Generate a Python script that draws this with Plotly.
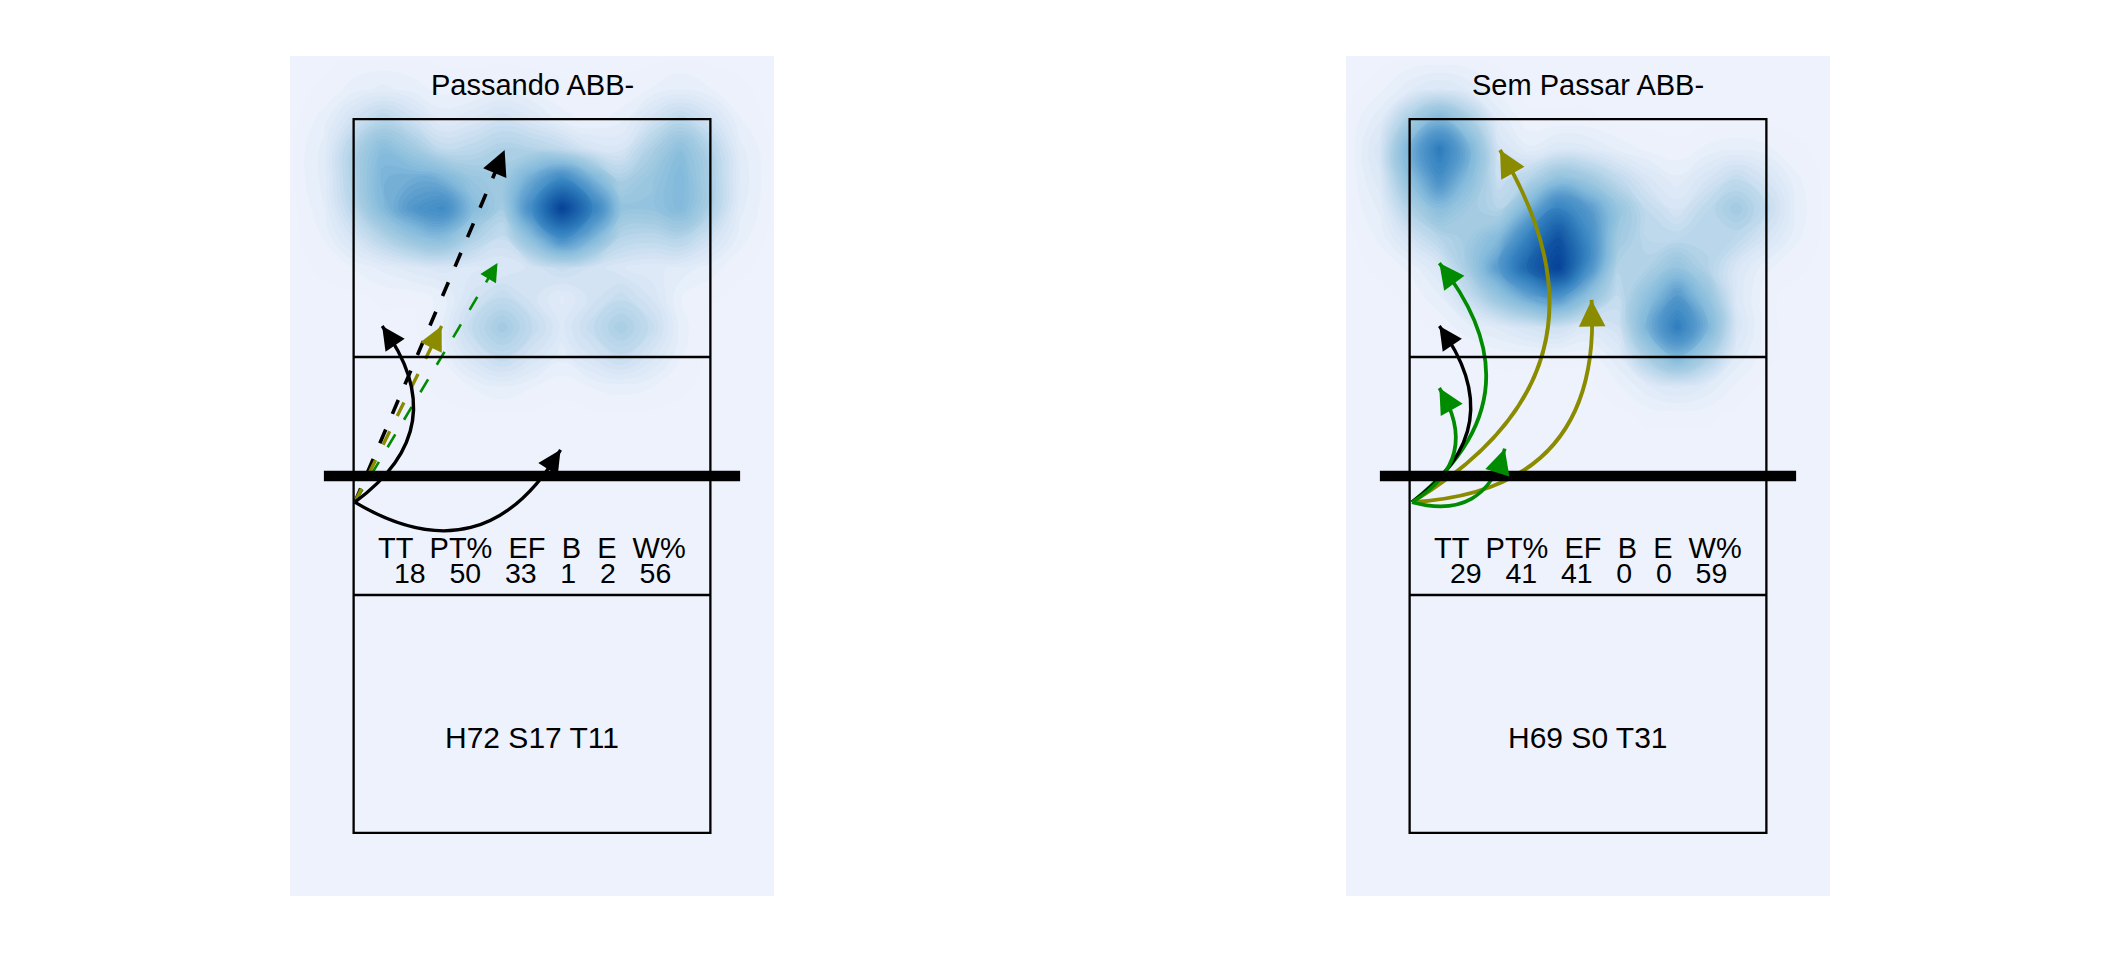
import plotly.graph_objects as go

# ---------------- data ----------------
PANEL_TITLES = ["Passando ABB-", "Sem Passar ABB-"]
STAT_LABELS = ["TT", "PT%", "EF", "B", "E", "W%"]
STAT_VALUES_LEFT = [18, 50, 33, 1, 2, 56]
STAT_VALUES_RIGHT = [29, 41, 41, 0, 0, 59]
SUMMARY_LEFT = "H72 S17 T11"
SUMMARY_RIGHT = "H69 S0 T31"

# density of attack end points, grid in court units
HEAT_X = [0.0, 0.25, 0.5, 0.75, 1.0, 1.25, 1.5, 1.75, 2.0, 2.25, 2.5, 2.75, 3.0, 3.25, 3.5, 3.75, 4.0]
HEAT_Y = [3.5, 3.75, 4.0, 4.25, 4.5, 4.75, 5.0, 5.25, 5.5, 5.75, 6.0, 6.25, 6.5, 6.75, 7.0]
HEAT_LEFT = [
    [0, 0, 0, 0, 0, 0, 0, 0, 0, 0, 0, 0, 0, 0, 0, 0, 0],
    [0, 0, 0, 0, 0, 0, 0, 0, 0, 0, 0, 0, 0, 0, 0, 0, 0],
    [0, 0, 0, 0, 0, 0, 0, 0, 0, 0, 0, 0, 0, 0, 0, 0, 0],
    [0, 0, 0, 0, 0, 1, 3, 5, 3, 1, 3, 4, 3, 1, 0, 0, 0],
    [0, 0, 0, 0, 0, 3, 12, 19, 12, 6, 12, 18, 11, 3, 0, 0, 0],
    [0, 0, 0, 0, 0, 5, 19, 30, 19, 9, 18, 28, 18, 4, 0, 0, 0],
    [0, 0, 0, 1, 1, 4, 13, 19, 13, 7, 13, 18, 12, 3, 1, 0, 0],
    [0, 1, 3, 6, 9, 11, 9, 9, 13, 18, 14, 10, 8, 7, 4, 1, 0],
    [0, 3, 12, 24, 36, 41, 26, 17, 41, 65, 47, 23, 21, 24, 14, 4, 0],
    [0, 5, 22, 43, 59, 66, 42, 29, 66, 103, 73, 37, 36, 43, 26, 6, 1],
    [1, 6, 26, 46, 49, 46, 34, 30, 50, 67, 47, 26, 34, 44, 27, 7, 1],
    [1, 6, 25, 41, 31, 19, 21, 26, 24, 20, 12, 11, 26, 39, 24, 6, 1],
    [0, 4, 14, 22, 15, 7, 10, 14, 10, 4, 2, 4, 13, 21, 13, 3, 0],
    [0, 1, 4, 6, 4, 2, 2, 4, 2, 1, 0, 1, 3, 5, 3, 1, 0],
    [0, 0, 1, 1, 1, 0, 0, 0, 0, 0, 0, 0, 0, 1, 0, 0, 0],
]
HEAT_RIGHT = [
    [0, 0, 0, 0, 0, 0, 0, 0, 0, 0, 0, 0, 0, 0, 0, 0, 0],
    [0, 0, 0, 0, 0, 0, 0, 0, 0, 0, 0, 0, 0, 0, 0, 0, 0],
    [0, 0, 0, 0, 0, 0, 0, 0, 0, 0, 1, 1, 1, 0, 0, 0, 0],
    [0, 0, 0, 0, 0, 0, 0, 0, 0, 2, 6, 9, 6, 2, 0, 0, 0],
    [0, 0, 0, 0, 0, 1, 1, 1, 1, 6, 24, 38, 24, 6, 1, 0, 0],
    [0, 0, 0, 1, 4, 7, 11, 13, 8, 12, 40, 63, 40, 10, 1, 0, 0],
    [0, 0, 1, 4, 15, 30, 44, 51, 32, 16, 33, 50, 32, 8, 1, 0, 0],
    [0, 1, 3, 9, 26, 49, 74, 88, 55, 21, 22, 31, 21, 9, 3, 1, 0],
    [0, 3, 11, 20, 26, 37, 62, 81, 57, 27, 18, 18, 19, 18, 10, 3, 0],
    [1, 5, 22, 35, 26, 20, 40, 61, 49, 30, 16, 10, 18, 26, 16, 4, 0],
    [1, 8, 34, 54, 35, 14, 20, 32, 27, 17, 9, 5, 10, 16, 10, 3, 0],
    [1, 10, 40, 64, 40, 11, 5, 8, 7, 4, 2, 1, 3, 4, 3, 1, 0],
    [1, 6, 24, 38, 24, 6, 1, 1, 1, 0, 0, 0, 0, 0, 0, 0, 0],
    [0, 2, 6, 9, 6, 2, 0, 0, 0, 0, 0, 0, 0, 0, 0, 0, 0],
    [0, 0, 1, 1, 1, 0, 0, 0, 0, 0, 0, 0, 0, 0, 0, 0, 0],
]

# attacks (court units): common start point, end points, outcome group, trajectory kind
LEFT_START = [0.51, 3.28]
LEFT_END_X = [1.77, 1.71, 1.24, 0.74, 2.24]
LEFT_END_Y = [6.24, 5.29, 4.76, 4.76, 3.72]
LEFT_GROUP = ["k", "g", "y", "k", "k"]
LEFT_KIND = ["straight", "straight", "straight", "curve", "curve"]

RIGHT_START = [0.52, 3.28]
RIGHT_END_X = [1.26, 2.03, 0.75, 0.75, 0.75, 1.30]
RIGHT_END_Y = [6.24, 4.98, 5.29, 4.76, 4.24, 3.73]
RIGHT_GROUP = ["y", "y", "g", "k", "g", "g"]
RIGHT_KIND = ["curve", "curve", "curve", "curve", "curve", "curve"]

# ---------------- styles ----------------
GROUP_COLOUR = {"k": "#000000", "g": "#008B00", "y": "#8B8B00"}
LEFT_WIDTH = [3.6, 2.6, 3.4, 3.3, 3.3]
RIGHT_WIDTH = [3.8, 3.8, 3.6, 3.3, 3.6, 3.6]
CURVATURE = 0.5
HEAD_TAIL = 0.15  # length (court units) of the arrow-head guide segment
BG = "#EEF2FD"
FONT = "Liberation Sans, Arial, sans-serif"
COLORSCALE = [
    [0.0, BG], [0.05, "#E4EDF9"], [0.14, "#CFE1F2"], [0.28, "#A6CCE3"],
    [0.42, "#84BADB"], [0.56, "#5599CC"], [0.68, "#3A86C3"], [0.82, "#1F69AF"],
    [1.0, "#08459A"],
]

W, H = 2112, 960
PAGE_OFFSET = 8  # default page margin of the html body
X_RANGE = [-0.035, 4.035]
Y_RANGE = [-0.03, 7.03]
PANEL_PX = [(290 - PAGE_OFFSET, 774 - PAGE_OFFSET), (1346 - PAGE_OFFSET, 1830 - PAGE_OFFSET)]
PANEL_PY = (56 - PAGE_OFFSET, 896 - PAGE_OFFSET)

fig = go.Figure()

panels = [
    dict(ax="", heat=HEAT_LEFT, title=PANEL_TITLES[0], stats=STAT_VALUES_LEFT, summary=SUMMARY_LEFT,
         start=LEFT_START, ex=LEFT_END_X, ey=LEFT_END_Y, group=LEFT_GROUP, kind=LEFT_KIND, width=LEFT_WIDTH),
    dict(ax="2", heat=HEAT_RIGHT, title=PANEL_TITLES[1], stats=STAT_VALUES_RIGHT, summary=SUMMARY_RIGHT,
         start=RIGHT_START, ex=RIGHT_END_X, ey=RIGHT_END_Y, group=RIGHT_GROUP, kind=RIGHT_KIND, width=RIGHT_WIDTH),
]

shapes = []
annotations = []
NB = "\u00a0"

for i, p in enumerate(panels):
    xa, ya = "x" + p["ax"], "y" + p["ax"]
    zmax = max(max(r) for r in p["heat"])
    fig.add_trace(go.Contour(
        x=HEAT_X, y=HEAT_Y, z=p["heat"], zmin=0, zmax=zmax, colorscale=COLORSCALE,
        contours=dict(coloring="fill", start=0.6, end=zmax, size=zmax / 45.0, showlines=False),
        line=dict(width=0, smoothing=1.3),
        showscale=False, hoverinfo="skip", xaxis=xa, yaxis=ya,
    ))

    # attack trajectories
    x0, y0 = p["start"]
    for x1, y1, g, k, lw in zip(p["ex"], p["ey"], p["group"], p["kind"], p["width"]):
        col = GROUP_COLOUR[g]
        dx, dy = x1 - x0, y1 - y0
        if k == "curve":
            cx = (x0 + x1) / 2 + CURVATURE * dy
            cy = (y0 + y1) / 2 - CURVATURE * dx
            shapes.append(dict(type="path", xref=xa, yref=ya, layer="above",
                               path=f"M {x0},{y0} Q {cx},{cy} {x1},{y1}",
                               line=dict(color=col, width=lw)))
            # point on the curve a little before the tip (t = 0.93) for the head direction
            t = 0.93
            tx = x1 - ((1 - t) ** 2 * x0 + 2 * (1 - t) * t * cx + t ** 2 * x1)
            ty = y1 - ((1 - t) ** 2 * y0 + 2 * (1 - t) * t * cy + t ** 2 * y1)
        else:
            shapes.append(dict(type="line", xref=xa, yref=ya, layer="above",
                               x0=x0, y0=y0, x1=x1, y1=y1,
                               line=dict(color=col, width=lw, dash="15px,17px")))
            tx, ty = dx, dy
        n = (tx ** 2 + ty ** 2) ** 0.5
        annotations.append(dict(
            x=x1, y=y1, ax=x1 - HEAD_TAIL * tx / n, ay=y1 - HEAD_TAIL * ty / n,
            xref=xa, yref=ya, axref=xa, ayref=ya, text="", showarrow=True,
            arrowhead=2, arrowsize=1.4, arrowwidth=lw, arrowcolor=col, standoff=0,
        ))

    # court
    court_line = dict(color="#000000", width=2.3)
    shapes.append(dict(type="rect", xref=xa, yref=ya, x0=0.5, x1=3.5, y0=0.5, y1=6.5,
                       line=court_line, layer="above"))
    for yl in (2.5, 4.5):
        shapes.append(dict(type="line", xref=xa, yref=ya, x0=0.5, x1=3.5, y0=yl, y1=yl,
                           line=court_line, layer="above"))
    shapes.append(dict(type="line", xref=xa, yref=ya, x0=0.25, x1=3.75, y0=3.5, y1=3.5,
                       line=dict(color="#000000", width=10.5), layer="above"))

    # texts
    annotations.append(dict(x=2.0, y=6.79, xref=xa, yref=ya, text=p["title"], showarrow=False,
                            font=dict(family=FONT, size=29, color="#000000"),
                            xanchor="center", yanchor="middle"))
    annotations.append(dict(x=2.0, y=2.892, xref=xa, yref=ya, text=(NB * 2).join(STAT_LABELS),
                            showarrow=False, font=dict(family=FONT, size=29, color="#000000"),
                            xanchor="center", yanchor="middle", height=24, borderpad=0,
                            valign="middle"))
    annotations.append(dict(x=2.0, y=2.682, xref=xa, yref=ya,
                            text=(NB * 3).join(str(v) for v in p["stats"]),
                            showarrow=False, font=dict(family=FONT, size=28.5, color="#000000"),
                            xanchor="center", yanchor="middle", height=24, borderpad=0,
                            valign="middle"))
    annotations.append(dict(x=2.0, y=1.298, xref=xa, yref=ya, text=p["summary"], showarrow=False,
                            font=dict(family=FONT, size=30, color="#000000"),
                            xanchor="center", yanchor="middle"))

ydom = [1 - PANEL_PY[1] / H, 1 - PANEL_PY[0] / H]
axis_common = dict(visible=False, showgrid=False, zeroline=False, fixedrange=True)
fig.update_layout(
    width=W, height=H, autosize=False,
    margin=dict(l=0, r=0, t=0, b=0),
    paper_bgcolor="#FFFFFF", plot_bgcolor=BG,
    showlegend=False,
    xaxis=dict(domain=[PANEL_PX[0][0] / W, PANEL_PX[0][1] / W], range=X_RANGE, anchor="y", **axis_common),
    yaxis=dict(domain=ydom, range=Y_RANGE, anchor="x", **axis_common),
    xaxis2=dict(domain=[PANEL_PX[1][0] / W, PANEL_PX[1][1] / W], range=X_RANGE, anchor="y2", **axis_common),
    yaxis2=dict(domain=ydom, range=Y_RANGE, anchor="x2", **axis_common),
    shapes=shapes,
    annotations=annotations,
)

fig.write_html("out.html")
